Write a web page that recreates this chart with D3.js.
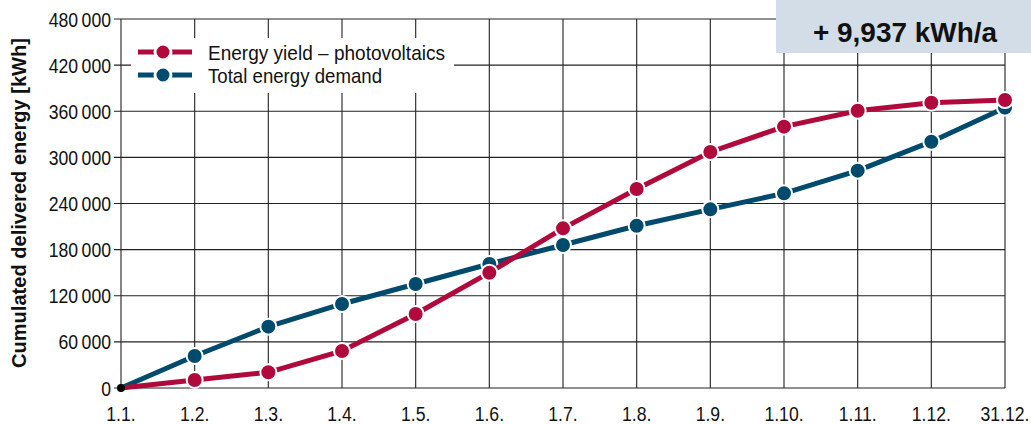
<!DOCTYPE html>
<html>
<head>
<meta charset="utf-8">
<script src="https://cdn.jsdelivr.net/npm/d3@7"></script>
<style>
  body { margin: 0; background: #fff; }
  svg { display: block; font-family: "Liberation Sans", Arial, sans-serif; }
</style>
</head>
<body>
<div id="viz"></div>
<script>
// dates (1st of each month, year end)
var DATES = ["1.1.", "1.2.", "1.3.", "1.4.", "1.5.", "1.6.", "1.7.", "1.8.", "1.9.", "1.10.", "1.11.", "1.12.", "31.12."];
// cumulated kWh
var PV_YIELD = [0, 10400, 20400, 48100, 96300, 150000, 207700, 258900, 307000, 340000, 360700, 371100, 374600];
var DEMAND   = [0, 41600, 79800, 109300, 135300, 161300, 186000, 211100, 232400, 253200, 282700, 320400, 364663];
var Y_TICKS = [0, 60000, 120000, 180000, 240000, 300000, 360000, 420000, 480000];
var SERIES_NAMES = ["Energy yield \u2013 photovoltaics", "Total energy demand"];
var ANNOTATION = "+ 9,937 kWh/a";

var W = 1031, H = 424;
var RED = "#b00a3c", BLUE = "#004a6e";
var SQUEEZE = 0.84;  // fake a condensed face

var svg = d3.select("#viz").append("svg")
	.attr("width", W)
	.attr("height", H);

var x = d3.scalePoint().domain(DATES).range([121, 1005]);
var y = d3.scaleLinear().domain([0, 480000]).range([388, 19]);

function fmt(v){
	return d3.format(",")(v).replace(/,/g, "\u2009");
}

// narrow text helper
function narrow(sel, px, py){
	return sel.attr("transform", function(d, i){
		var a = typeof px === "function" ? px(d, i) : px;
		var b = typeof py === "function" ? py(d, i) : py;
		return "translate(" + a + "," + b + ") scale(" + SQUEEZE + ",1)";
	});
}

// grid
svg.append("g").selectAll("line")
	.data(DATES)
	.enter().append("line")
	.attr("x1", function(d){ return x(d); })
	.attr("x2", function(d){ return x(d); })
	.attr("y1", y(480000)).attr("y2", y(0))
	.attr("stroke", "#333").attr("stroke-width", 1.2);

svg.append("g").selectAll("line")
	.data(Y_TICKS)
	.enter().append("line")
	.attr("x1", 114).attr("x2", 1005)
	.attr("y1", function(d){ return y(d); })
	.attr("y2", function(d){ return y(d); })
	.attr("stroke", "#222").attr("stroke-width", 1.2);

// y labels
narrow(svg.append("g").selectAll("text")
	.data(Y_TICKS)
	.enter().append("text")
	.attr("text-anchor", "end")
	.attr("font-size", 21)
	.attr("fill", "#111")
	.text(fmt), 111, function(d){ return y(d) + 7.5; });

// x labels
narrow(svg.append("g").selectAll("text")
	.data(DATES)
	.enter().append("text")
	.attr("text-anchor", "middle")
	.attr("font-size", 21)
	.attr("fill", "#111")
	.text(function(d){ return d; }), function(d){ return x(d); }, 421);

// y title
svg.append("text")
	.attr("transform", "translate(26," + ((38 + 368) / 2) + ") rotate(-90)")
	.attr("text-anchor", "middle")
	.attr("font-size", 21)
	.attr("font-weight", "bold")
	.attr("fill", "#111")
	.attr("textLength", 330)
	.attr("lengthAdjust", "spacingAndGlyphs")
	.text("Cumulated delivered energy [kWh]");

// annotation box
svg.append("rect")
	.attr("x", 776).attr("y", 0)
	.attr("width", W - 776).attr("height", 53)
	.attr("fill", "#d3dde7");
svg.append("text")
	.attr("x", 813).attr("y", 42)
	.attr("font-size", 27)
	.attr("font-weight", "bold")
	.attr("fill", "#111")
	.attr("textLength", 184)
	.attr("lengthAdjust", "spacingAndGlyphs")
	.text(ANNOTATION);

// series
var line = d3.line()
	.x(function(d, i){ return x(DATES[i]); })
	.y(function(d){ return y(d); });

function drawSeries(values, color){
	svg.append("path")
		.datum(values)
		.attr("d", line)
		.attr("fill", "none")
		.attr("stroke", color)
		.attr("stroke-width", 5);
	svg.append("g").selectAll("circle")
		.data(values.slice(1))
		.enter().append("circle")
		.attr("cx", function(d, i){ return x(DATES[i + 1]); })
		.attr("cy", function(d){ return y(d); })
		.attr("r", 8)
		.attr("fill", color)
		.attr("stroke", "#fff")
		.attr("stroke-width", 2);
}
drawSeries(DEMAND, BLUE);
drawSeries(PV_YIELD, RED);

// origin dot
svg.append("circle")
	.attr("cx", x(DATES[0])).attr("cy", y(0))
	.attr("r", 4).attr("fill", "#000");

// legend
var LEGEND_W = [237, 174];
var lg = svg.append("g");
lg.append("rect")
	.attr("x", 131).attr("y", 38)
	.attr("width", 323).attr("height", 55)
	.attr("fill", "#fff");
[RED, BLUE].forEach(function(c, i){
	var cy = 52 + i * 23;
	lg.append("line")
		.attr("x1", 138).attr("x2", 192)
		.attr("y1", cy).attr("y2", cy)
		.attr("stroke", c).attr("stroke-width", 5);
	lg.append("circle")
		.attr("cx", 163).attr("cy", cy).attr("r", 8)
		.attr("fill", c).attr("stroke", "#fff").attr("stroke-width", 3);
	lg.append("text")
		.attr("x", 208).attr("y", cy + 7.5)
		.attr("font-size", 21)
		.attr("fill", "#111")
		.attr("textLength", LEGEND_W[i])
		.attr("lengthAdjust", "spacingAndGlyphs")
		.text(SERIES_NAMES[i]);
});
</script>
</body>
</html>
